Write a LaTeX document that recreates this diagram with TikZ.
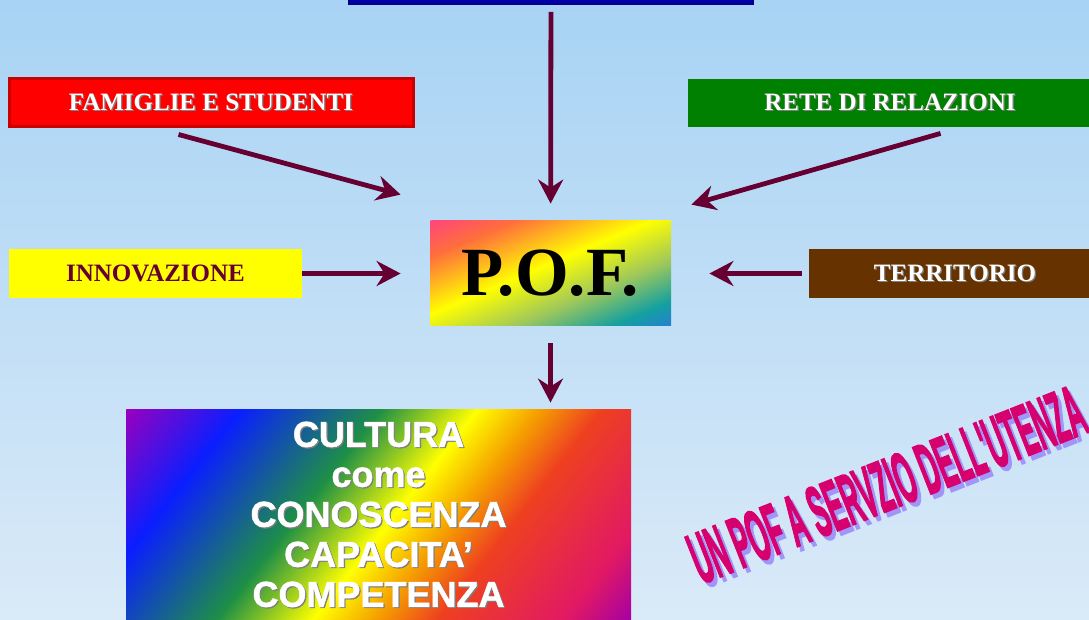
\documentclass[tikz,border=0pt]{standalone}
\usepackage{fontspec}
\setmainfont{Liberation Serif}
\setsansfont{Liberation Sans}
\newfontfamily\nero[FakeBold=1.2]{Liberation Sans Bold}
\newfontfamily\nerissimo[FakeBold=3]{Liberation Sans Bold}
\usetikzlibrary{calc,arrows.meta}

\definecolor{bgtop}{RGB}{168,211,244}
\definecolor{bgbot}{RGB}{218,234,248}
\definecolor{bordeaux}{RGB}{102,0,51}
\definecolor{rosso}{RGB}{255,0,0}
\definecolor{rossoscuro}{RGB}{200,0,0}
\definecolor{verde}{RGB}{0,128,0}
\definecolor{giallo}{RGB}{255,255,0}
\definecolor{marrone}{RGB}{102,51,0}
\definecolor{blu}{RGB}{0,0,170}
\definecolor{bluscuro}{RGB}{0,0,140}
\definecolor{fucsia}{RGB}{214,0,110}
\definecolor{lilla}{RGB}{160,150,250}
% colori del P.O.F.
\definecolor{pofrosa}{RGB}{255,51,153}
\definecolor{pofarancio}{RGB}{255,110,60}
\definecolor{pofgiallo}{RGB}{255,255,0}
\definecolor{pofverde}{RGB}{160,200,90}
\definecolor{pofteal}{RGB}{20,160,160}
\definecolor{pofblu}{RGB}{50,100,255}
% arcobaleno
\definecolor{cviola}{RGB}{153,0,190}
\definecolor{cblu}{RGB}{10,30,255}
\definecolor{cverde}{RGB}{30,143,70}
\definecolor{cgiallo}{RGB}{255,255,0}
\definecolor{carancio}{RGB}{245,160,0}
\definecolor{crosso}{RGB}{238,64,32}
\definecolor{cmagenta}{RGB}{225,25,100}
\definecolor{cviolab}{RGB}{165,0,165}

\pgfdeclarehorizontalshading{pofshade}{100bp}{color(0bp)=(pofrosa); color(27bp)=(pofrosa); color(37bp)=(pofarancio); color(48bp)=(pofgiallo); color(57bp)=(pofverde); color(65bp)=(pofteal); color(74bp)=(pofblu); color(100bp)=(pofblu)}
\pgfdeclarehorizontalshading{arcobaleno}{100bp}{color(0bp)=(cviola); color(25bp)=(cviola); color(33.5bp)=(cblu); color(44bp)=(cverde); color(51.2bp)=(cgiallo); color(55.8bp)=(carancio); color(60.5bp)=(crosso); color(70bp)=(cmagenta); color(75bp)=(cviolab); color(100bp)=(cviolab)}

\newcommand{\ombra}[3][0.6pt]{\makebox[0pt][l]{\raisebox{-#1}{\hspace{#1}\textcolor{#2}{#3}}}#3}

\begin{document}
\begin{tikzpicture}[x=0.5pt,y=-0.5pt,
  box/.style={minimum width=202pt,minimum height=24pt,inner sep=0pt,font=\bfseries\fontsize{12.5}{14}\selectfont},
  corto/.style={box,minimum width=146.5pt,minimum height=24.5pt},
  frec/.style={-{Stealth[length=12pt,width=12.5pt,inset=4pt]},line width=2.4pt,draw=bordeaux},
  % sfumatura inclinata: #1 nome, #2 angolo, #3 mezza ampiezza
  sfuma/.style n args={3}{path picture={
    \shade[shading=#1,transform canvas={rotate around={#2:(path picture bounding box.center)}}]
      ($(path picture bounding box.center)+(-#3,-600)$) rectangle ($(path picture bounding box.center)+(#3,600)$);}}]
\useasboundingbox (0,0) rectangle (1089,620);
\clip (0,0) rectangle (1089,620);
\fill[top color=bgtop,bottom color=bgbot] (0,0) rectangle (1089,620);

% riquadri
\node[box,fill=blu,draw=bluscuro,line width=1pt] (titolo) at (551,-20) {};
\node[box,fill=rosso,draw=rossoscuro,line width=1.5pt,text=white] (fam) at (211,103) {\ombra{gray}{FAMIGLIE E STUDENTI}};
\node[box,fill=verde,text=white] (rete) at (890,103) {\ombra{gray}{RETE DI RELAZIONI}};
\node[corto,fill=giallo,text=bordeaux] (innov) at (155.5,273.5) {INNOVAZIONE};
\node[corto,fill=marrone,text=white] (terr) at (955,273.5) {\ombra{gray}{TERRITORIO}};
\node[sfuma={pofshade}{-67}{95.5},minimum width=120.5pt,minimum height=52.5pt,inner sep=0pt,
  font=\bfseries\fontsize{34.5}{36}\selectfont] (pof) at (550.5,273.5) {P.O.F.};
\node[sfuma={arcobaleno}{-38}{263.7},minimum width=252.5pt,minimum height=105pt,inner sep=0pt,
  text=white,align=center,font=\nero\fontsize{18}{20}\selectfont] (cult) at (378.5,515)
  {\ombra{gray}{CULTURA}\\ \ombra{gray}{come}\\ \ombra{gray}{CONOSCENZA}\\ \ombra{gray}{CAPACITA’}\\ \ombra{gray}{COMPETENZA}};

% frecce
\draw[frec,shorten <=3.5pt,shorten >=8.5pt] (titolo) -- (pof);
\draw[frec] ($(fam.south west)+(171,6)$) -- ($(pof.north west)+(-29,-26)$);
\draw[frec] ($(rete.south west)+(253,6)$) -- ($(pof.north east)+(20,-16)$);
\draw[frec,shorten >=14.5pt] (innov) -- (pof);
\draw[frec,shorten <=3.25pt,shorten >=19pt] (terr) -- (pof);
\draw[frec,shorten <=8.5pt,shorten >=3.5pt] (pof) -- (pof |- cult.north);

% scritta inclinata
\node[rotate=21.5,xscale=0.84,yscale=2.4,text=fucsia,inner sep=0pt,font=\nerissimo\fontsize{15}{18}\selectfont] (motto) at (888,487)
  {\ombra[1.1pt]{lilla}{UN POF A SERVZIO DELL\textquotesingle UTENZA}};
\end{tikzpicture}
\end{document}
